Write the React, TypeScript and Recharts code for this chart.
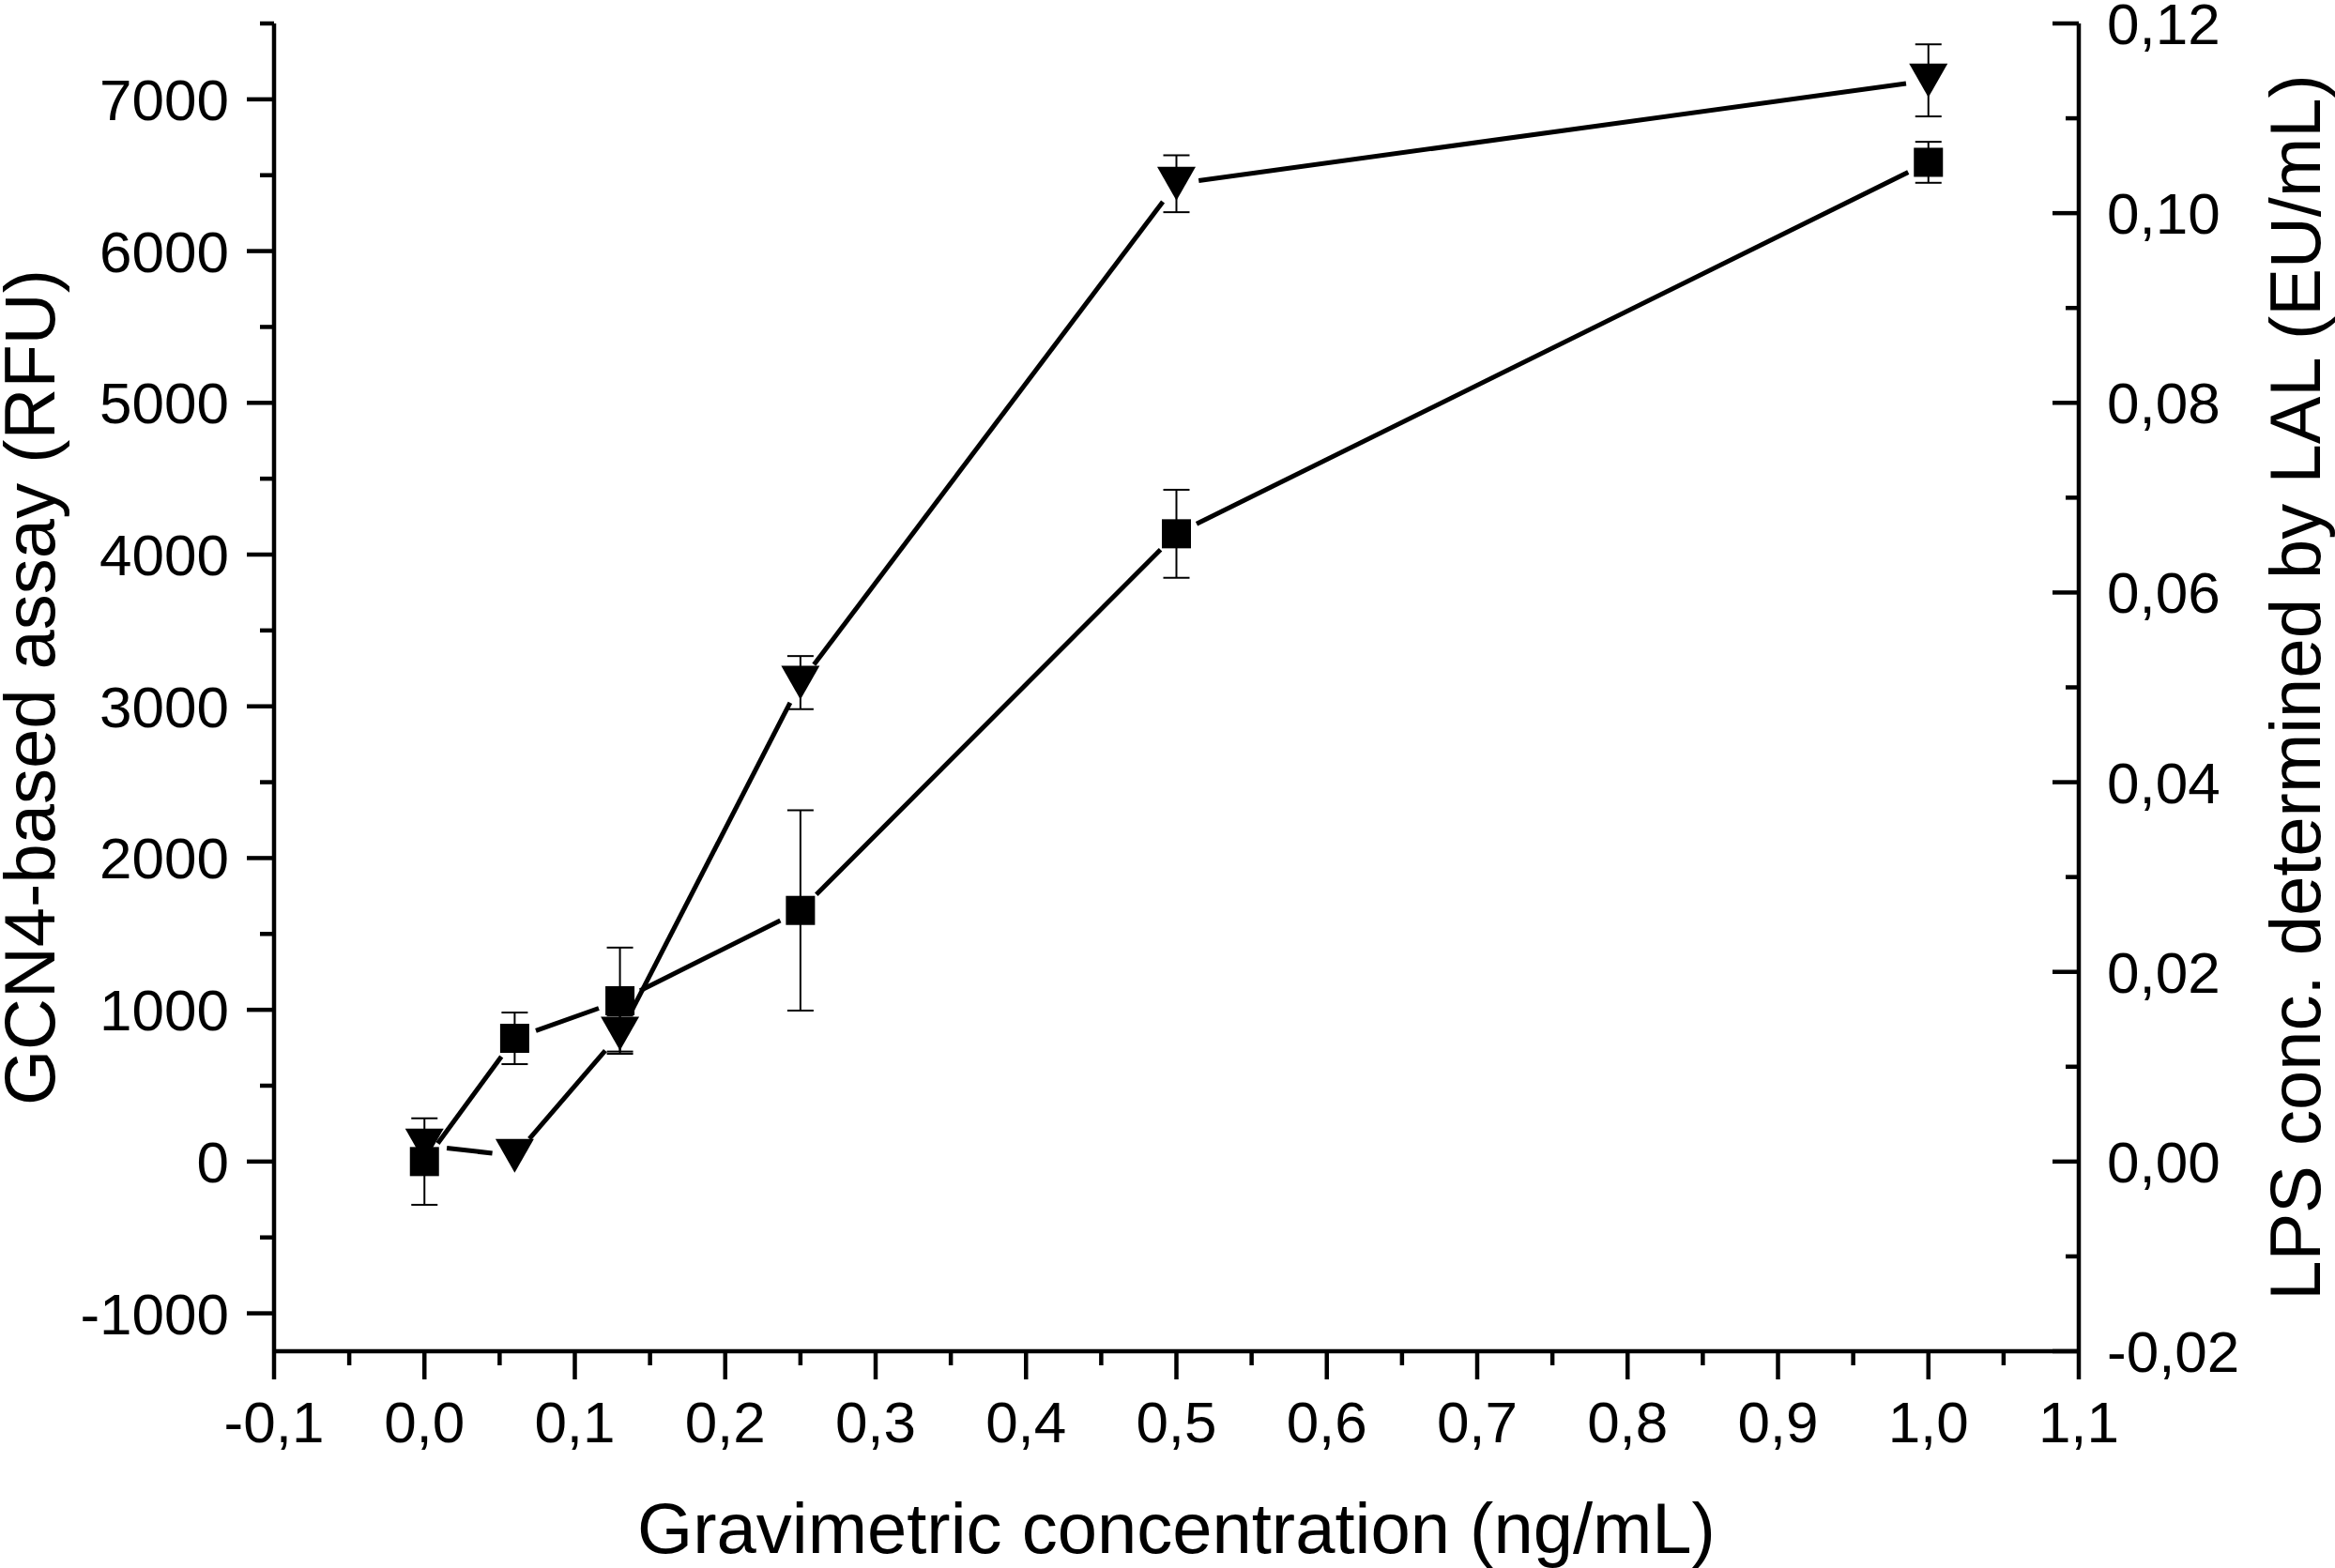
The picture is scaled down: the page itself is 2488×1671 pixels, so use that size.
import React from "react";
import { ComposedChart, ErrorBar, Line, XAxis, YAxis } from "recharts";

// gravimetric concentration (ng/mL)
const concentration = [0, 0.06, 0.13, 0.25, 0.5, 1.0];
// GCN4-based assay, squares, left axis (RFU)
const gcn4Rfu = [0, 812, 1060, 1655, 4137, 6585];
const gcn4Sd = [285, 170, 350, 660, 290, 135];
// LAL, down triangles, right axis (EU/mL)
const lalEu = [0.0017, 0.0006, 0.0135, 0.0505, 0.1031, 0.114];
const lalSd = [0, 0, 0.0019, 0.0028, 0.003, 0.0038];

const xMajorTicks = [-0.1, 0, 0.1, 0.2, 0.3, 0.4, 0.5, 0.6, 0.7, 0.8, 0.9, 1.0, 1.1];
const xMinorTicks = [-0.05, 0.05, 0.15, 0.25, 0.35, 0.45, 0.55, 0.65, 0.75, 0.85, 0.95, 1.05];
const xTickLabels = ["-0,1", "0,0", "0,1", "0,2", "0,3", "0,4", "0,5", "0,6", "0,7", "0,8", "0,9", "1,0", "1,1"];

const leftMajorTicks = [-1000, 0, 1000, 2000, 3000, 4000, 5000, 6000, 7000];
const leftMinorTicks = [-500, 500, 1500, 2500, 3500, 4500, 5500, 6500, 7500];
const leftTickLabels = ["-1000", "0", "1000", "2000", "3000", "4000", "5000", "6000", "7000"];

const rightMajorTicks = [-0.02, 0, 0.02, 0.04, 0.06, 0.08, 0.1, 0.12];
const rightMinorTicks = [-0.01, 0.01, 0.03, 0.05, 0.07, 0.09, 0.11];
const rightTickLabels = ["-0,02", "0,00", "0,02", "0,04", "0,06", "0,08", "0,10", "0,12"];

const gcn4Data = concentration.map((x, i) => ({ x, y: gcn4Rfu[i], err: gcn4Sd[i] }));
const lalData = concentration.map((x, i) => ({ x, y: lalEu[i], err: lalSd[i] }));

const byValue = (a: number, b: number) => a - b;
const xTicks = [...xMajorTicks, ...xMinorTicks].sort(byValue);
const leftTicks = [...leftMajorTicks, ...leftMinorTicks].sort(byValue);
const rightTicks = [...rightMajorTicks, ...rightMinorTicks].sort(byValue);

const FONT = "'Liberation Sans', Arial, Helvetica, sans-serif";
const AXIS_W = 4.5;
const LINE_W = 5;
const GAP = 24;
const TICK_FONT = 62;
const TITLE_FONT = 76;

function BottomTick(props: any) {
  const { x, y, payload } = props;
  const i = xMajorTicks.indexOf(payload.value);
  const major = i >= 0;
  return (
    <g>
      <line x1={x} x2={x} y1={y} y2={y + (major ? 30 : 15)} stroke="#000" strokeWidth={AXIS_W} />
      {major && (
        <text x={x} y={y + 97} textAnchor="middle" fontSize={TICK_FONT} fontFamily={FONT} fill="#000">
          {xTickLabels[i]}
        </text>
      )}
    </g>
  );
}

function LeftTick(props: any) {
  const { x, y, payload } = props;
  const i = leftMajorTicks.indexOf(payload.value);
  const major = i >= 0;
  return (
    <g>
      <line x1={x} x2={x - (major ? 29 : 15)} y1={y} y2={y} stroke="#000" strokeWidth={AXIS_W} />
      {major && (
        <text x={x - 48} y={y + 22} textAnchor="end" fontSize={TICK_FONT} fontFamily={FONT} fill="#000">
          {leftTickLabels[i]}
        </text>
      )}
    </g>
  );
}

function RightTick(props: any) {
  const { x, y, payload } = props;
  const i = rightMajorTicks.indexOf(payload.value);
  const major = i >= 0;
  return (
    <g>
      <line x1={x} x2={x - (major ? 28 : 14)} y1={y} y2={y} stroke="#000" strokeWidth={AXIS_W} />
      {major && (
        <text x={x + 30} y={y + 22} textAnchor="start" fontSize={TICK_FONT} fontFamily={FONT} fill="#000">
          {rightTickLabels[i]}
        </text>
      )}
    </g>
  );
}

function xTitle(props: any) {
  const vb = props.viewBox ?? { x: 292, y: 1440, width: 1923, height: 231 };
  return (
    <text x={vb.x + vb.width / 2} y={vb.y + 215} textAnchor="middle" fontSize={TITLE_FONT} fontFamily={FONT} fill="#000">
      Gravimetric concentration (ng/mL)
    </text>
  );
}

function leftTitle(props: any) {
  const vb = props.viewBox ?? { x: 0, y: 25, width: 292, height: 1415 };
  const cx = vb.x + 58;
  const cy = vb.y + vb.height / 2;
  return (
    <text x={cx} y={cy} transform={`rotate(-90, ${cx}, ${cy})`} textAnchor="middle" fontSize={TITLE_FONT} fontFamily={FONT} fill="#000">
      GCN4-based assay (RFU)
    </text>
  );
}

function rightTitle(props: any) {
  const vb = props.viewBox ?? { x: 2215, y: 25, width: 273, height: 1415 };
  const cx = vb.x + 257;
  const cy = vb.y + vb.height / 2;
  return (
    <text x={cx} y={cy} transform={`rotate(-90, ${cx}, ${cy})`} textAnchor="middle" fontSize={TITLE_FONT} fontFamily={FONT} fill="#000">
      LPS conc. determined by LAL (EU/mL)
    </text>
  );
}

// line piece to the next point, stopped short of both symbols
function segment(points: any[] | undefined, i: number) {
  const a = points?.[i];
  const b = points?.[i + 1];
  if (!a || !b) return null;
  const dx = b.x - a.x;
  const dy = b.y - a.y;
  const d = Math.hypot(dx, dy);
  if (d <= 2 * GAP) return null;
  const ux = dx / d;
  const uy = dy / d;
  return (
    <line
      x1={a.x + ux * GAP}
      y1={a.y + uy * GAP}
      x2={b.x - ux * GAP}
      y2={b.y - uy * GAP}
      stroke="#000"
      strokeWidth={LINE_W}
    />
  );
}

function squareDot(props: any) {
  const { cx, cy, index, points } = props;
  const s = 31;
  return (
    <g key={`sq-${index}`}>
      {segment(points, index)}
      <rect x={cx - s / 2} y={cy - s / 2} width={s} height={s} fill="#000" />
    </g>
  );
}

function triangleDot(props: any) {
  const { cx, cy, index, points } = props;
  const hw = 20.5;
  const hh = 18;
  return (
    <g key={`tr-${index}`}>
      {segment(points, index)}
      <polygon points={`${cx - hw},${cy - hh} ${cx + hw},${cy - hh} ${cx},${cy + hh}`} fill="#000" />
    </g>
  );
}

export default function App() {
  return (
    <div style={{ position: "absolute", left: 0, top: 0, background: "#fff" }}>
      <ComposedChart width={2488} height={1671} margin={{ top: 25, right: 0, bottom: 0, left: 0 }}>
        <XAxis
          type="number"
          dataKey="x"
          domain={[-0.1, 1.1]}
          ticks={xTicks}
          interval={0}
          tickSize={0}
          tickMargin={0}
          tickLine={false}
          tick={BottomTick}
          axisLine={{ stroke: "#000", strokeWidth: AXIS_W }}
          height={231}
          label={xTitle}
        />
        <YAxis
          yAxisId="left"
          type="number"
          domain={[-1250, 7500]}
          ticks={leftTicks}
          interval={0}
          tickSize={0}
          tickMargin={0}
          tickLine={false}
          tick={LeftTick}
          axisLine={{ stroke: "#000", strokeWidth: AXIS_W }}
          width={292}
          label={leftTitle}
        />
        <YAxis
          yAxisId="right"
          orientation="right"
          type="number"
          domain={[-0.02, 0.12]}
          ticks={rightTicks}
          interval={0}
          tickSize={0}
          tickMargin={0}
          tickLine={false}
          tick={RightTick}
          axisLine={{ stroke: "#000", strokeWidth: AXIS_W }}
          width={273}
          label={rightTitle}
        />
        <Line
          yAxisId="left"
          data={gcn4Data}
          dataKey="y"
          stroke="none"
          dot={squareDot}
          activeDot={false}
          isAnimationActive={false}
        >
          <ErrorBar dataKey="err" direction="y" width={14} stroke="#000" strokeWidth={2} />
        </Line>
        <Line
          yAxisId="right"
          data={lalData}
          dataKey="y"
          stroke="none"
          dot={triangleDot}
          activeDot={false}
          isAnimationActive={false}
        >
          <ErrorBar dataKey="err" direction="y" width={14} stroke="#000" strokeWidth={2} />
        </Line>
      </ComposedChart>
    </div>
  );
}
